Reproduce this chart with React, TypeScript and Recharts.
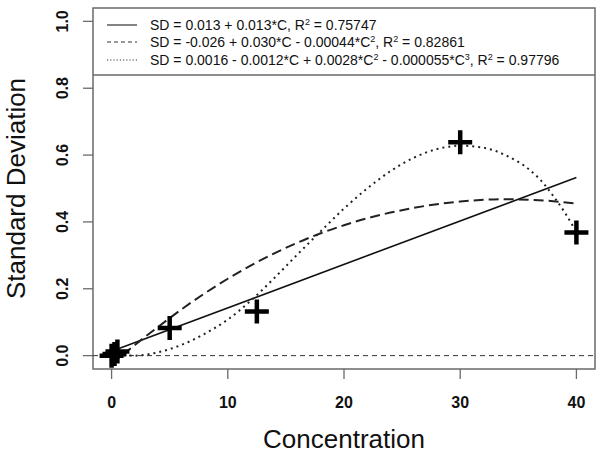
import React from "react";
import { ComposedChart, Line, Scatter, XAxis, YAxis, ReferenceLine, ReferenceArea } from "recharts";

// observed standard deviations
const concentration = [0, 0.25, 0.5, 5, 12.5, 30, 40];
const sdObserved = [0.0, 0.005, 0.012, 0.083, 0.132, 0.638, 0.368];

// fitted curves
const linearX = [0, 40];
const linearSD = [0.013, 0.533];

const quadX = [0, 2, 4, 6, 8, 10, 12, 14, 16, 18, 20, 22, 24, 26, 28, 30, 32, 34, 36, 38, 40];
const quadSD = [
  -0.026, 0.032, 0.086, 0.138, 0.186, 0.23, 0.27, 0.306, 0.338, 0.366, 0.39, 0.411, 0.428, 0.442, 0.453,
  0.461, 0.466, 0.468, 0.466, 0.462, 0.455,
];

const cubicX = [0, 2, 4, 6, 8, 10, 12, 14, 16, 18, 20, 22, 24, 26, 28, 30, 32, 34, 36, 37, 38, 39, 40];
const cubicSD = [
  0.002, 0.0, 0.01, 0.032, 0.065, 0.108, 0.165, 0.232, 0.303, 0.372, 0.44, 0.5, 0.552, 0.592, 0.618, 0.628,
  0.622, 0.598, 0.555, 0.522, 0.478, 0.428, 0.37,
];

const xTicks = [0, 10, 20, 30, 40];
const yTicks = [0, 0.2, 0.4, 0.6, 0.8, 1.0];

const legendItems = [
  { dash: undefined, parts: ["SD = 0.013 + 0.013*C, R", "2", " = 0.75747"] },
  { dash: "4 3", parts: ["SD = -0.026 + 0.030*C - 0.00044*C", "2", ", R", "2", " = 0.82861"] },
  { dash: "1.2 2", parts: ["SD = 0.0016 - 0.0012*C + 0.0028*C", "2", " - 0.000055*C", "3", ", R", "2", " = 0.97796"] },
];

const points = concentration.map((c, i) => ({ c, sd: sdObserved[i] }));
const linear = linearX.map((c, i) => ({ c, sd: linearSD[i] }));
const quad = quadX.map((c, i) => ({ c, sd: quadSD[i] }));
const cubic = cubicX.map((c, i) => ({ c, sd: cubicSD[i] }));

const FONT = "'Liberation Sans', Arial, sans-serif";
const BOX = "#6a6a6a";

function Cross({ cx, cy }: any) {
  if (cx == null || cy == null) return null;
  return (
    <path
      d={`M${cx - 12},${cy}H${cx + 12}M${cx},${cy - 12}V${cy + 12}`}
      stroke="#000"
      strokeWidth={4.5}
      fill="none"
    />
  );
}

function XTick({ x, payload }: any) {
  return (
    <text x={x} y={408} textAnchor="middle" fontFamily={FONT} fontWeight="bold" fontSize={16} fill="#111">
      {payload.value}
    </text>
  );
}

function YTick({ y, payload }: any) {
  return (
    <text
      x={68}
      y={y}
      transform={`rotate(-90, 68, ${y})`}
      textAnchor="middle"
      fontFamily={FONT}
      fontWeight="bold"
      fontSize={16}
      fill="#111"
    >
      {Number(payload.value).toFixed(1)}
    </text>
  );
}

function YLabel({ viewBox }: any) {
  const cy = viewBox.y + viewBox.height / 2;
  return (
    <text x={25} y={cy} transform={`rotate(-90, 25, ${cy})`} textAnchor="middle" fontFamily={FONT} fontSize={26} fill="#111">
      Standard Deviation
    </text>
  );
}

function Legend() {
  return (
    <svg
      width={502}
      height={68}
      style={{ position: "absolute", left: 93, top: 8, pointerEvents: "none" }}
      fontFamily={FONT}
      fontSize={14}
    >
      <line x1={0} y1={67} x2={502} y2={67} stroke={BOX} strokeWidth={1.5} />
      {legendItems.map((item, i) => {
        const y = [17, 34, 52][i];
        return (
          <g key={i}>
            <line x1={14} x2={44} y1={y} y2={y} stroke="#333" strokeWidth={1.2} strokeDasharray={item.dash} />
            <text x={57} y={y + 5} fill="#111">
              {item.parts.map((p, j) =>
                j % 2 === 1 ? (
                  <tspan key={j} fontSize={9} dy={-5}>
                    {p}
                  </tspan>
                ) : (
                  <tspan key={j} dy={j === 0 ? 0 : 5}>
                    {p}
                  </tspan>
                )
              )}
            </text>
          </g>
        );
      })}
    </svg>
  );
}

export default function App() {
  return (
    <div style={{ position: "fixed", left: 0, top: 0, width: 601, height: 455, background: "#fff" }}>
      <ComposedChart width={601} height={455} margin={{ top: 8, right: 6, bottom: 0, left: 0 }}>
        <XAxis
          type="number"
          dataKey="c"
          domain={[-1.6, 41.6]}
          ticks={xTicks}
          height={86}
          axisLine={false}
          tickSize={10}
          tickLine={{ stroke: BOX, strokeWidth: 1.3 }}
          tick={<XTick />}
          allowDataOverflow
          label={{ value: "Concentration", position: "insideBottom", offset: 7, fontSize: 26, fill: "#111", fontFamily: FONT }}
        />
        <YAxis
          type="number"
          dataKey="sd"
          domain={[-0.04, 1.04]}
          ticks={yTicks}
          width={93}
          axisLine={false}
          tickSize={10}
          tickLine={{ stroke: BOX, strokeWidth: 1.3 }}
          tick={<YTick />}
          allowDataOverflow
          label={<YLabel />}
        />
        <ReferenceArea
          x1={-1.6}
          x2={41.6}
          y1={-0.04}
          y2={1.04}
          fill="none"
          stroke={BOX}
          strokeWidth={1.5}
          ifOverflow="visible"
        />
        <ReferenceLine y={0} stroke="#333" strokeWidth={1} strokeDasharray="5 4" />
        <Line data={linear} dataKey="sd" type="linear" stroke="#111" strokeWidth={1.6} dot={false} isAnimationActive={false} />
        <Line data={quad} dataKey="sd" type="monotone" stroke="#222" strokeWidth={2} strokeDasharray="10 5" dot={false} isAnimationActive={false} />
        <Line data={cubic} dataKey="sd" type="monotone" stroke="#222" strokeWidth={2} strokeDasharray="2 4" dot={false} isAnimationActive={false} />
        <Scatter data={points} dataKey="sd" shape={<Cross />} isAnimationActive={false} />
      </ComposedChart>
      <Legend />
    </div>
  );
}
